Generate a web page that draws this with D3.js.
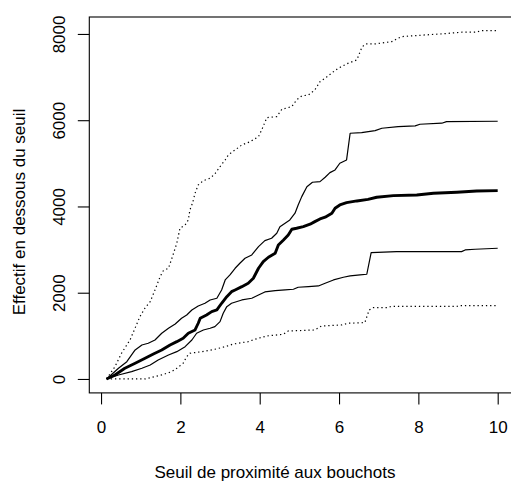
<!DOCTYPE html>
<html>
<head>
<meta charset="utf-8">
<script src="https://cdn.jsdelivr.net/npm/d3@7"></script>
<style>
  body { margin: 0; background: #fff; }
  text { font-family: "Liberation Sans", Arial, Helvetica, sans-serif; fill: #000; }
</style>
</head>
<body>
<script>
// Tick labels
let xTicks = [0, 2, 4, 6, 8, 10];
let yTicks = [0, 2000, 4000, 6000, 8000];

// Series: [seuil, effectif]
let upperDotted = [
  [0.14, 0], [0.35, 285], [0.52, 603], [0.73, 904], [0.86, 1183], [0.98, 1445],
  [1.11, 1647], [1.24, 1793], [1.36, 2064], [1.49, 2372], [1.57, 2511], [1.70, 2567],
  [1.80, 2836], [1.91, 3147], [1.99, 3495], [2.12, 3571], [2.20, 3687], [2.24, 3919],
  [2.31, 4088], [2.37, 4306], [2.45, 4499], [2.58, 4599], [2.75, 4654], [2.87, 4754],
  [3.00, 4923], [3.13, 5079], [3.21, 5195], [3.32, 5271], [3.38, 5310], [3.55, 5426],
  [3.76, 5503], [3.97, 5619], [4.05, 5774], [4.18, 6059], [4.43, 6083], [4.56, 6254],
  [4.81, 6315], [4.93, 6470], [5.06, 6563], [5.23, 6586], [5.39, 6702], [5.52, 6894],
  [5.65, 6973], [5.86, 7126], [5.98, 7205], [6.19, 7305], [6.45, 7398], [6.50, 7514],
  [6.58, 7699], [6.68, 7769], [6.91, 7769], [7.33, 7822], [7.49, 7901], [7.58, 7938],
  [8.17, 7977], [8.59, 8001], [9.09, 8040], [9.43, 8040], [9.60, 8077], [10, 8077]
];

let upperSolid = [
  [0.14, 0], [0.44, 248], [0.65, 401], [0.77, 557], [0.86, 673], [1.03, 788],
  [1.19, 828], [1.36, 904], [1.53, 1060], [1.70, 1176], [1.87, 1275], [2.03, 1408],
  [2.16, 1484], [2.29, 1600], [2.45, 1693], [2.62, 1755], [2.75, 1832], [2.92, 1871],
  [3.04, 2064], [3.13, 2296], [3.25, 2412], [3.38, 2567], [3.50, 2683], [3.63, 2799],
  [3.80, 2876], [3.97, 3068], [4.13, 3207], [4.30, 3263], [4.43, 3379], [4.51, 3532],
  [4.64, 3611], [4.76, 3687], [4.89, 3843], [4.97, 4035], [5.06, 4228], [5.19, 4459],
  [5.33, 4561], [5.52, 4575], [5.65, 4677], [5.77, 4784], [5.90, 4847], [6.02, 5002],
  [6.19, 5079], [6.28, 5698], [6.57, 5712], [6.91, 5758], [7.08, 5814], [7.49, 5851],
  [7.92, 5867], [8.04, 5906], [8.59, 5930], [8.71, 5967], [10, 5976]
];

let median = [
  [0.14, 0], [0.35, 93], [0.60, 248], [0.86, 364], [1.11, 480], [1.32, 580],
  [1.53, 673], [1.74, 788], [1.91, 865], [2.07, 944], [2.20, 1060], [2.37, 1136],
  [2.45, 1292], [2.50, 1408], [2.66, 1484], [2.79, 1561], [2.92, 1600], [3.04, 1755],
  [3.17, 1909], [3.29, 2024], [3.38, 2064], [3.55, 2140], [3.71, 2219], [3.84, 2335],
  [3.97, 2567], [4.09, 2720], [4.22, 2822], [4.39, 2915], [4.47, 3107], [4.60, 3223],
  [4.72, 3339], [4.81, 3472], [4.93, 3495], [5.10, 3532], [5.27, 3588], [5.39, 3648],
  [5.52, 3710], [5.65, 3750], [5.82, 3843], [5.90, 3959], [6.02, 4035], [6.19, 4088],
  [6.45, 4128], [6.73, 4163], [6.95, 4214], [7.37, 4251], [7.96, 4267], [8.38, 4306],
  [8.97, 4330], [9.47, 4360], [10, 4367]
];

let lowerSolid = [
  [0.14, 0], [0.44, 93], [0.77, 169], [1.03, 248], [1.24, 325], [1.44, 441],
  [1.70, 557], [1.91, 633], [2.12, 749], [2.29, 904], [2.41, 1060], [2.58, 1136],
  [2.75, 1176], [2.87, 1213], [3.00, 1329], [3.08, 1524], [3.17, 1677], [3.29, 1755],
  [3.55, 1832], [3.80, 1871], [3.97, 1948], [4.13, 2018], [4.39, 2048], [4.64, 2064],
  [4.85, 2080], [4.97, 2127], [5.23, 2140], [5.48, 2157], [5.65, 2219], [5.86, 2296],
  [6.11, 2358], [6.28, 2389], [6.53, 2412], [6.70, 2428], [6.81, 2929], [7.45, 2952],
  [9.09, 2952], [9.18, 2992], [9.43, 3008], [10, 3031]
];

let lowerDotted = [
  [0.14, 0], [1.11, 0], [1.28, 39], [1.53, 93], [1.78, 169], [1.91, 248],
  [2.07, 364], [2.16, 517], [2.24, 596], [2.54, 633], [2.87, 689], [3.13, 749],
  [3.34, 812], [3.71, 865], [3.88, 921], [4.18, 997], [4.60, 1037], [4.72, 1113],
  [5.39, 1136], [5.56, 1229], [6.07, 1252], [6.23, 1292], [6.65, 1306], [6.76, 1600],
  [6.86, 1653], [7.24, 1653], [7.31, 1681], [8.97, 1681], [9.01, 1700], [10, 1700]
];

let width = 511, height = 481;
let plotLeft = 89.3, plotRight = 513.4, plotTop = 17, plotBottom = 392.9;

let svg = d3.select('body').append('svg')
  .attr('width', width)
  .attr('height', height);

let x = d3.scaleLinear().domain([-0.296, 10.396]).range([plotLeft, plotRight]);
let y = d3.scaleLinear().domain([-323, 8393]).range([plotBottom, plotTop]);

let line = d3.line().x(d => x(d[0])).y(d => y(d[1]));

let series = [
  { data: upperDotted, width: 1.2, dash: '1.3,2.9' },
  { data: upperSolid, width: 1.2, dash: null },
  { data: median, width: 2.9, dash: null },
  { data: lowerSolid, width: 1.2, dash: null },
  { data: lowerDotted, width: 1.2, dash: '1.3,2.9' }
];

svg.selectAll('path.curve')
  .data(series)
  .enter()
  .append('path')
  .attr('class', 'curve')
  .attr('d', d => line(d.data))
  .attr('fill', 'none')
  .attr('stroke', '#000')
  .attr('stroke-width', d => d.width)
  .attr('stroke-dasharray', d => d.dash)
  .attr('stroke-linejoin', 'round');

// Box around the plot region
svg.append('rect')
  .attr('x', plotLeft)
  .attr('y', plotTop)
  .attr('width', plotRight - plotLeft)
  .attr('height', plotBottom - plotTop)
  .attr('fill', 'none')
  .attr('stroke', '#000')
  .attr('stroke-width', 1.1);

// X axis
let xAxis = svg.append('g')
  .attr('transform', `translate(0,${plotBottom})`)
  .call(d3.axisBottom(x).tickValues(xTicks).tickSize(11.5).tickSizeOuter(0).tickFormat(d3.format('d')));
xAxis.select('.domain').remove();
xAxis.selectAll('line').attr('stroke', '#000').attr('stroke-width', 1.1);
xAxis.selectAll('text')
  .attr('y', 40.4)
  .attr('dy', null)
  .attr('font-size', '17px')
  .attr('font-family', '"Liberation Sans", Arial, sans-serif');

// Y axis
let yAxis = svg.append('g')
  .attr('transform', `translate(${plotLeft},0)`)
  .call(d3.axisLeft(y).tickValues(yTicks).tickSize(11.5).tickSizeOuter(0).tickFormat(d3.format('d')));
yAxis.select('.domain').remove();
yAxis.selectAll('line').attr('stroke', '#000').attr('stroke-width', 1.1);
yAxis.selectAll('text')
  .attr('transform', 'rotate(-90)')
  .attr('x', 0)
  .attr('y', -24.5)
  .attr('dy', null)
  .attr('text-anchor', 'middle')
  .attr('font-size', '17px')
  .attr('font-family', '"Liberation Sans", Arial, sans-serif');

// Axis titles
svg.append('text')
  .attr('x', 275)
  .attr('y', 477.5)
  .attr('text-anchor', 'middle')
  .attr('font-size', '17px')
  .text('Seuil de proximité aux bouchots');

svg.append('text')
  .attr('transform', 'translate(25,212) rotate(-90)')
  .attr('text-anchor', 'middle')
  .attr('font-size', '17px')
  .text('Effectif en dessous du seuil');
</script>
</body>
</html>
